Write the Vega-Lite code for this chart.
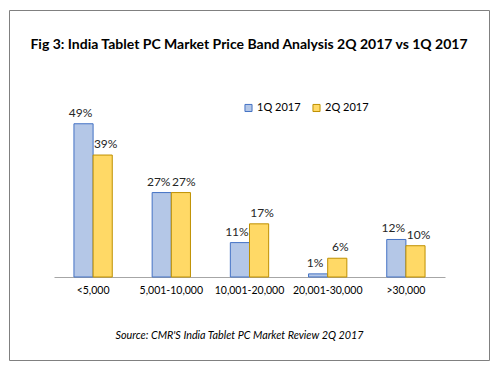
{
  "$schema": "https://vega.github.io/schema/vega-lite/v6.json",
  "width": 480,
  "height": 350,
  "autosize": "none",
  "padding": {"left": 9, "top": 10, "right": 12, "bottom": 10},
  "background": "white",
  "title": {
    "text": "Fig 3: India Tablet PC Market Price Band Analysis 2Q 2017 vs 1Q 2017",
    "font": "Lato",
    "fontSize": 14,
    "fontWeight": "bold",
    "color": "#000000",
    "anchor": "middle",
    "frame": "group",
    "offset": -42
  },
  "config": {
    "view": {"stroke": "#808080", "strokeWidth": 1},
    "text": {"font": "Lato"}
  },
  "data": {
    "values": [
      {"band": "<5,000", "quarter": "1Q 2017", "share": 0.49},
      {"band": "<5,000", "quarter": "2Q 2017", "share": 0.39},
      {"band": "5,001-10,000", "quarter": "1Q 2017", "share": 0.27},
      {"band": "5,001-10,000", "quarter": "2Q 2017", "share": 0.27},
      {"band": "10,001-20,000", "quarter": "1Q 2017", "share": 0.11},
      {"band": "10,001-20,000", "quarter": "2Q 2017", "share": 0.17},
      {"band": "20,001-30,000", "quarter": "1Q 2017", "share": 0.01},
      {"band": "20,001-30,000", "quarter": "2Q 2017", "share": 0.06},
      {"band": ">30,000", "quarter": "1Q 2017", "share": 0.12},
      {"band": ">30,000", "quarter": "2Q 2017", "share": 0.10}
    ]
  },
  "encoding": {
    "x": {
      "field": "band",
      "type": "nominal",
      "sort": ["<5,000", "5,001-10,000", "10,001-20,000", "20,001-30,000", ">30,000"],
      "scale": {"range": [45, 436], "paddingInner": 0.51, "paddingOuter": 0.255},
      "axis": {
        "offset": -83,
        "domainColor": "#a6a6a6",
        "ticks": false,
        "labelAngle": 0,
        "labelFont": "Lato",
        "labelFontSize": 10.5,
        "labelColor": "#000000",
        "labelPadding": 8,
        "title": "Source: CMR'S India Tablet PC Market Review 2Q 2017",
        "titleFont": "Lato",
        "titleFontStyle": "italic",
        "titleFontWeight": "normal",
        "titleFontSize": 10.8,
        "titleColor": "#000000",
        "titlePadding": 34,
        "titleX": 230
      }
    },
    "xOffset": {"field": "quarter", "type": "nominal"},
    "y": {
      "field": "share",
      "type": "quantitative",
      "scale": {"domain": [0, 0.55], "range": [267, 95]},
      "axis": null
    }
  },
  "layer": [
    {
      "mark": {"type": "bar", "strokeWidth": 1},
      "encoding": {
        "fill": {
          "field": "quarter",
          "type": "nominal",
          "scale": {"range": ["#b4c7e7", "#ffd966"]},
          "legend": {
            "title": null,
            "orient": "none",
            "direction": "horizontal",
            "legendX": 234,
            "legendY": 92,
            "symbolType": "square",
            "symbolSize": 50,
            "symbolStrokeWidth": 1,
            "labelFont": "Lato",
            "labelFontSize": 11,
            "labelColor": "#000000",
            "columnPadding": 9,
            "labelOffset": 3
          }
        },
        "stroke": {
          "field": "quarter",
          "type": "nominal",
          "scale": {"range": ["#4472c4", "#bf9000"]},
          "legend": {
            "title": null,
            "orient": "none",
            "direction": "horizontal",
            "legendX": 234,
            "legendY": 92,
            "symbolType": "square",
            "symbolSize": 50,
            "symbolStrokeWidth": 1,
            "labelFont": "Lato",
            "labelFontSize": 11,
            "labelColor": "#000000",
            "columnPadding": 9,
            "labelOffset": 3
          }
        }
      }
    },
    {
      "transform": [{"filter": "datum.quarter === '1Q 2017'"}],
      "mark": {"type": "text", "dy": -11, "dx": -3, "fontSize": 12, "color": "#262626", "font": "Lato"},
      "encoding": {
        "text": {"field": "share", "type": "quantitative", "format": ".0%"}
      }
    },
    {
      "transform": [{"filter": "datum.quarter === '2Q 2017'"}],
      "mark": {"type": "text", "dy": -11, "dx": 3, "fontSize": 12, "color": "#262626", "font": "Lato"},
      "encoding": {
        "text": {"field": "share", "type": "quantitative", "format": ".0%"}
      }
    }
  ]
}
